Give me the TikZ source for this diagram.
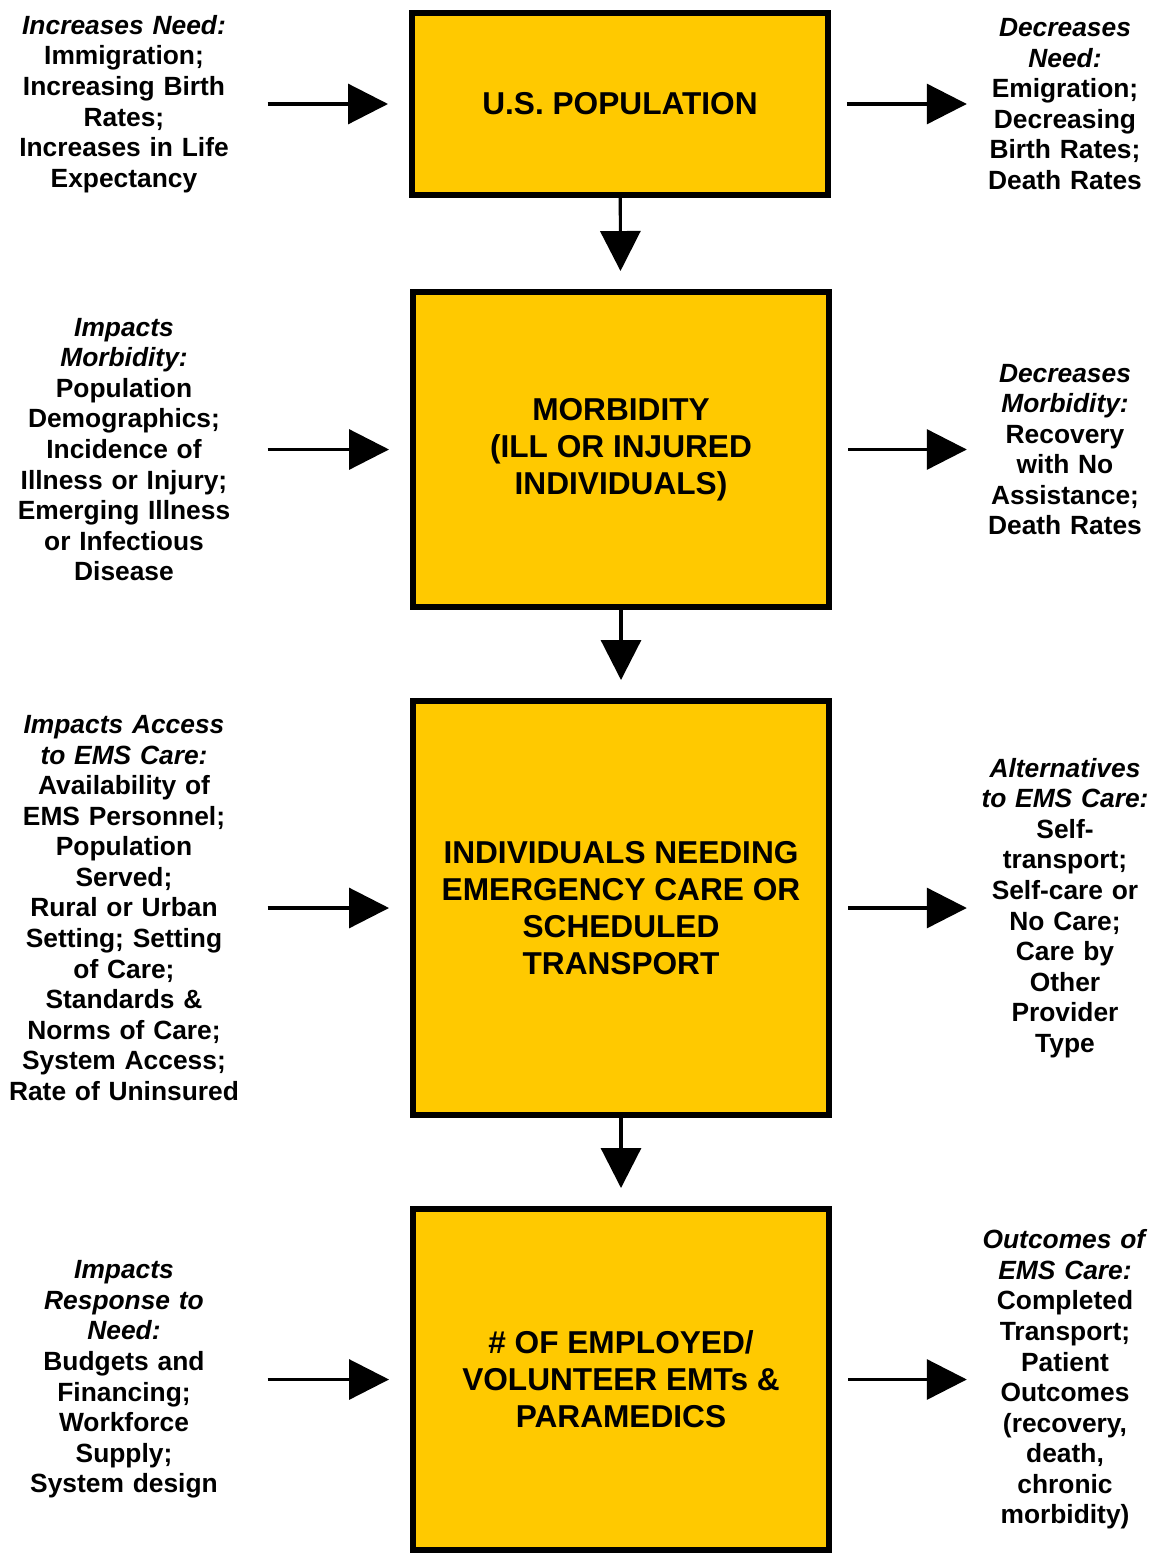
\documentclass[tikz,border=0pt]{standalone}
\usepackage{fontspec}
\setmainfont{Liberation Sans}
\usepackage{tikz}
\usetikzlibrary{arrows.meta}
\definecolor{emsgold}{RGB}{255,201,0}
\tikzset{
	stage/.style={draw=black, line width=1.7pt, fill=emsgold, minimum width=4.16cm, align=center, font=\bfseries\fontsize{9}{10.5}\selectfont},
	lefttext/.style={text width=2.4cm, inner sep=0pt, align=center, font=\bfseries\fontsize{7.5}{8.7}\selectfont},
	righttext/.style={lefttext, text width=1.75cm},
	flow/.style={line width=0.9pt, -{Triangle[width=0.4cm,length=0.4cm]}}
}

\begin{document}
\begin{tikzpicture}
	\useasboundingbox (0,0) rectangle (11.58,-15.53);
	\node[stage, minimum height=1.82cm] (box1) at (6.2,-1.04) {U.S. POPULATION};
	\node[stage, minimum height=3.15cm] (box2) at (6.21,-4.495) {MORBIDITY\\(ILL OR INJURED\\INDIVIDUALS)};
	\node[stage, minimum height=4.14cm] (box3) at (6.21,-9.08) {INDIVIDUALS NEEDING\\EMERGENCY CARE OR\\SCHEDULED\\TRANSPORT};
	\node[stage, minimum height=3.41cm] (box4) at (6.21,-13.795) {\# OF EMPLOYED/\\VOLUNTEER EMTs \&\\PARAMEDICS};
	\node[lefttext] (in1) at (1.24,-1.04) {\textit{Increases Need:}\\Immigration;\\Increasing Birth\\Rates;\\Increases in Life\\Expectancy};
	\node[lefttext] (in2) at (1.24,-4.495) {\textit{Impacts}\\\textit{Morbidity:}\\Population\\Demographics;\\Incidence of\\Illness or Injury;\\Emerging Illness\\or Infectious\\Disease};
	\node[lefttext] (in3) at (1.24,-9.08) {\textit{Impacts Access}\\\textit{to EMS Care:}\\Availability of\\EMS Personnel;\\Population\\Served;\\Rural or Urban\\Setting; Setting\\of Care;\\Standards \&\\Norms of Care;\\System Access;\\Rate of Uninsured};
	\node[lefttext] (in4) at (1.24,-13.795) {\textit{Impacts}\\\textit{Response to}\\\textit{Need:}\\Budgets and\\Financing;\\Workforce\\Supply;\\System design};
	\node[righttext] (out1) at (10.65,-1.04) {\textit{Decreases}\\\textit{Need:}\\Emigration;\\Decreasing\\Birth Rates;\\Death Rates};
	\node[righttext] (out2) at (10.65,-4.495) {\textit{Decreases}\\\textit{Morbidity:}\\Recovery\\with No\\Assistance;\\Death Rates};
	\node[righttext] (out3) at (10.65,-9.08) {\textit{Alternatives}\\\textit{to EMS Care:}\\Self-\\transport;\\Self-care or\\No Care;\\Care by\\Other\\Provider\\Type};
	\node[righttext] (out4) at (10.65,-13.795) {\textit{Outcomes of}\\\textit{EMS Care:}\\Completed\\Transport;\\Patient\\Outcomes\\(recovery,\\death,\\chronic\\morbidity)};
	\foreach \i in {1,2,3,4}
	{\draw[flow, shorten <=0.23cm, shorten >=0.21cm] (in\i) -- (box\i);
	\draw[flow, shorten <=0.16cm, shorten >=0.1cm] (box\i) -- (out\i);}
	\foreach \i/\j in {1/2,2/3,3/4}
	{\draw[flow, shorten >=0.18cm] (box\i) -- (box\j);}
\end{tikzpicture}
\end{document}
